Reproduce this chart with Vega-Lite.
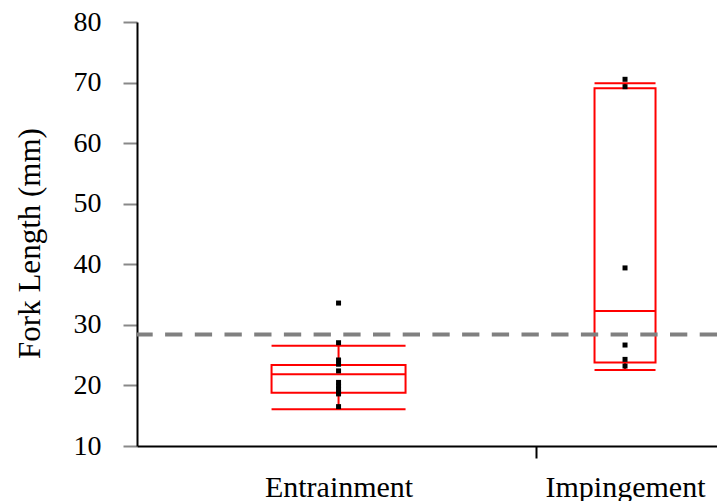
{
  "$schema": "https://vega.github.io/schema/vega-lite/v6.json",
  "width": 580,
  "height": 424,
  "autosize": "none",
  "padding": {"left": 137, "top": 22, "right": 0, "bottom": 55},
  "background": "white",
  "config": {
    "view": {"stroke": null},
    "font": "Liberation Serif",
    "axis": {"grid": false, "domainColor": "black", "domainWidth": 2, "tickWidth": 2, "labelColor": "black", "titleColor": "black", "labelFont": "Liberation Serif", "titleFont": "Liberation Serif"}
  },
  "datasets": {
    "boxes": [
      {"group": 1, "site": "Entrainment", "low": 16.06, "q1": 18.8, "median": 21.83, "q3": 23.37, "high": 26.56},
      {"group": 2, "site": "Impingement", "low": 22.55, "q1": 23.8, "median": 32.29, "q3": 69.05, "high": 69.88}
    ],
    "points": [
      {"group": 1, "site": "Entrainment", "length": 33.6},
      {"group": 1, "site": "Entrainment", "length": 27.05},
      {"group": 1, "site": "Entrainment", "length": 24.2},
      {"group": 1, "site": "Entrainment", "length": 23.5},
      {"group": 1, "site": "Entrainment", "length": 22.4},
      {"group": 1, "site": "Entrainment", "length": 20.5},
      {"group": 1, "site": "Entrainment", "length": 19.9},
      {"group": 1, "site": "Entrainment", "length": 19.4},
      {"group": 1, "site": "Entrainment", "length": 18.9},
      {"group": 1, "site": "Entrainment", "length": 18.6},
      {"group": 1, "site": "Entrainment", "length": 16.5},
      {"group": 2, "site": "Impingement", "length": 70.54},
      {"group": 2, "site": "Impingement", "length": 69.32},
      {"group": 2, "site": "Impingement", "length": 39.4},
      {"group": 2, "site": "Impingement", "length": 26.67},
      {"group": 2, "site": "Impingement", "length": 24.3},
      {"group": 2, "site": "Impingement", "length": 23.2}
    ],
    "ref": [{"length": 28.4}]
  },
  "encoding": {
    "x": {
      "field": "group",
      "type": "quantitative",
      "scale": {"domain": [0.3139, 2.3036], "nice": false, "zero": false},
      "axis": {
        "values": [1, 1.69, 2],
        "labelExpr": "datum.value == 1 ? 'Entrainment' : datum.value == 2 ? 'Impingement' : ''",
        "tickSize": 12,
        "tickColor": {"condition": {"test": "datum.value > 1.5 && datum.value < 1.9", "value": "black"}, "value": "transparent"},
        "labelFontSize": 30,
        "labelPadding": 14,
        "labelFlush": false,
        "labelOverlap": false,
        "title": null
      }
    }
  },
  "layer": [
    {
      "data": {"name": "boxes"},
      "mark": {"type": "rule", "color": "#ff0000", "strokeWidth": 2},
      "encoding": {
        "y": {"field": "q3", "type": "quantitative"},
        "y2": {"field": "high"}
      }
    },
    {
      "data": {"name": "boxes"},
      "mark": {"type": "rule", "color": "#ff0000", "strokeWidth": 2},
      "encoding": {
        "y": {"field": "low", "type": "quantitative"},
        "y2": {"field": "q1"}
      }
    },
    {
      "data": {"name": "boxes"},
      "mark": {"type": "bar", "orient": "vertical", "fill": "transparent", "stroke": "#ff0000", "strokeWidth": 2},
      "encoding": {
        "y": {"field": "q1", "type": "quantitative"},
        "y2": {"field": "q3"},
        "size": {"condition": {"test": "datum.group == 1", "value": 134}, "value": 61}
      }
    },
    {
      "data": {"name": "boxes"},
      "mark": {"type": "tick", "orient": "horizontal", "color": "#ff0000", "thickness": 2, "opacity": 1},
      "encoding": {
        "y": {"field": "median", "type": "quantitative"},
        "size": {"condition": {"test": "datum.group == 1", "value": 134}, "value": 61}
      }
    },
    {
      "data": {"name": "boxes"},
      "mark": {"type": "tick", "orient": "horizontal", "color": "#ff0000", "thickness": 2, "opacity": 1},
      "encoding": {
        "y": {"field": "low", "type": "quantitative"},
        "size": {"condition": {"test": "datum.group == 1", "value": 134}, "value": 61}
      }
    },
    {
      "data": {"name": "boxes"},
      "mark": {"type": "tick", "orient": "horizontal", "color": "#ff0000", "thickness": 2, "opacity": 1},
      "encoding": {
        "y": {"field": "high", "type": "quantitative"},
        "size": {"condition": {"test": "datum.group == 1", "value": 134}, "value": 61}
      }
    },
    {
      "data": {"name": "ref"},
      "mark": {"type": "rule", "color": "#808080", "strokeWidth": 4, "strokeDash": [17.3, 12.4]},
      "encoding": {
        "x": null,
        "y": {"field": "length", "type": "quantitative"}
      }
    },
    {
      "data": {"name": "points"},
      "mark": {"type": "point", "shape": "square", "filled": true, "color": "black", "size": 25, "opacity": 1},
      "encoding": {
        "y": {
          "field": "length",
          "type": "quantitative",
          "scale": {"domain": [10, 80], "nice": false, "zero": false},
          "axis": {
            "values": [10, 20, 30, 40, 50, 60, 70, 80],
            "tickSize": 14,
            "labelFontSize": 28,
            "labelPadding": 22,
            "title": "Fork Length (mm)",
            "titleFontSize": 31,
            "titleFontWeight": "normal",
            "titlePadding": 27,
            "titleY": 221
          }
        }
      }
    }
  ]
}
